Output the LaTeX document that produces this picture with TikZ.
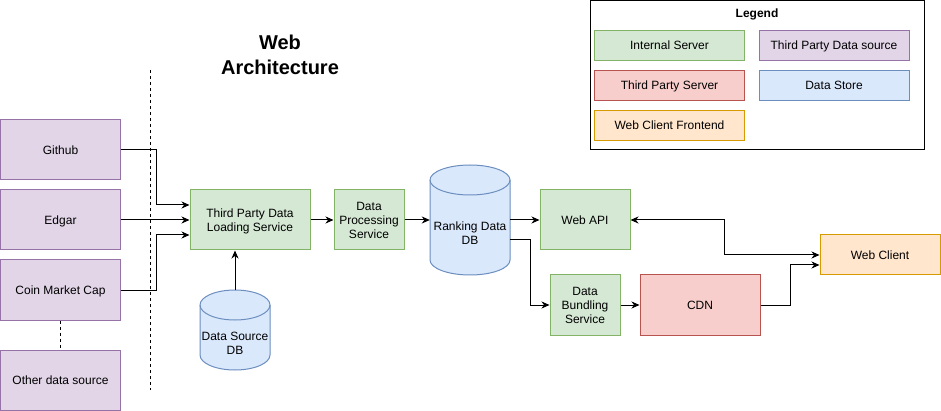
\documentclass[tikz,border=0pt]{standalone}
\usepackage{fontspec}
\setmainfont{Liberation Sans}
\usetikzlibrary{arrows.meta,backgrounds}
\definecolor{greenf}{HTML}{D5E8D4}\definecolor{greend}{HTML}{82B366}
\definecolor{purplef}{HTML}{E1D5E7}\definecolor{purpled}{HTML}{9673A6}
\definecolor{redf}{HTML}{F8CECC}\definecolor{redd}{HTML}{B85450}
\definecolor{bluef}{HTML}{DAE8FC}\definecolor{blued}{HTML}{6C8EBF}
\definecolor{orangef}{HTML}{FFE6CC}\definecolor{oranged}{HTML}{D79B00}
\newcommand{\mycyl}[4]{%
  \pgfmathsetmacro\rx{(#3-#1)/2}%
  \filldraw[fill=bluef, draw=blued, line width=1pt] (#1,#2+15) -- (#1,#4-15)
    arc[start angle=180,end angle=360,x radius=\rx pt,y radius=15pt] -- (#3,#2+15)
    arc[start angle=0,end angle=180,x radius=\rx pt,y radius=15pt] -- cycle;
  \draw[draw=blued, line width=1pt] (#1,#2+15)
    arc[start angle=180,end angle=360,x radius=\rx pt,y radius=15pt];
}
\begin{document}
\begin{tikzpicture}[x=1pt,y=-1pt, font=\fontsize{12}{14}\selectfont,
  bx/.style={draw, line width=1pt, align=center, inner sep=0pt, text depth=0pt},
  gbox/.style={bx, fill=greenf, draw=greend},
  pbox/.style={bx, fill=purplef, draw=purpled},
  rbox/.style={bx, fill=redf, draw=redd},
  bbox/.style={bx, fill=bluef, draw=blued},
  obox/.style={bx, fill=orangef, draw=oranged},
  cylnode/.style={align=center, inner sep=0pt},
  arr/.style={line width=1pt, -{Stealth[length=8pt,width=7pt,inset=2.5pt]}},
  arrb/.style={line width=1pt, {Stealth[length=8pt,width=7pt,inset=2.5pt]}-{Stealth[length=8pt,width=7pt,inset=2.5pt]}},
  dsh/.style={line width=1pt, dash pattern=on 3pt off 3pt}]
\useasboundingbox (0,0) rectangle (941,411);

% title
\node[font=\fontsize{20}{25}\selectfont\bfseries, align=center] (title) at (280,55) {Web\\Architecture};

% sources
\node[pbox, minimum width=120, minimum height=60] (github) at (60.5,150) {Github};
\node[pbox, minimum width=120, minimum height=60] (edgar) at (60.5,220) {Edgar};
\node[pbox, minimum width=120, minimum height=60] (coin) at (60.5,290) {Coin Market Cap};
\node[pbox, minimum width=120, minimum height=60] (other) at (60.5,380) {Other data source};

% separator
\coordinate (dtop) at (150.5,70);
\coordinate (dbot) at (150.5,390);
\draw[dsh] (dtop) -- (dbot);
\draw[dsh] (coin.south) -- (other.north);

% services
\node[gbox, minimum width=120, minimum height=60] (load) at (250,220) {Third Party Data\\Loading Service};
\node[gbox, minimum width=70, minimum height=60] (proc) at (369,220) {Data\\Processing\\Service};
\node[gbox, minimum width=90, minimum height=60] (webapi) at (585,220) {Web API};
\node[gbox, minimum width=70, minimum height=60] (bundle) at (585,305) {Data\\Bundling\\Service};
\node[rbox, minimum width=120, minimum height=60] (cdn) at (700,305) {CDN};
\node[obox, minimum width=120, minimum height=40] (client) at (880,255) {Web Client};

% data stores
\node[minimum width=80, minimum height=110, inner sep=0pt] (rdb) at (470,220) {};
\node[cylnode] (rdbl) at (470,233) {Ranking Data\\DB};
\node[minimum width=70, minimum height=80, inner sep=0pt] (dsdb) at (235,330) {};
\node[cylnode] (dsdbl) at (235,343) {Data Source\\DB};
\begin{scope}[on background layer]
  \mycyl{430}{165}{510}{275}
  \mycyl{200}{290}{270}{370}
\end{scope}

% connectors
\draw[arr] (github.east) -- ++(35,0) |- ([yshift=15pt]load.west);
\draw[arr] (edgar.east) -- (load.west);
\draw[arr] (coin.east) -- ++(35,0) |- ([yshift=-15pt]load.west);
\draw[arr] (dsdb.north) -- (dsdb.north |- load.south);
\draw[arr] (load.east) -- (proc.west);
\draw[arr] (proc.east) -- (rdb.west);
\draw[arr] (rdb.east) -- (webapi.west);
\draw[arr] ([yshift=-20pt]rdb.east) -- ++(20,0) |- (bundle.west);
\draw[arr] (bundle.east) -- (cdn.west);
\draw[arrb] (client.west) -- ++(-95,0) |- (webapi.east);
\draw[arr] (cdn.east) -- ++(30,0) |- ([yshift=-10pt]client.west);

% legend
\node[draw=black, line width=1pt, minimum width=334, minimum height=149, inner sep=0pt] (legend) at (757.5,75.5) {};
\node[font=\fontsize{12}{14}\selectfont\bfseries] (legtitle) at (757,14) {Legend};
\node[gbox, minimum width=150, minimum height=30] (lg1) at (669.5,45.5) {Internal Server};
\node[pbox, minimum width=150, minimum height=30] (lg2) at (834,45.5) {Third Party Data source};
\node[rbox, minimum width=150, minimum height=30] (lg3) at (669.5,85.5) {Third Party Server};
\node[bbox, minimum width=150, minimum height=30] (lg4) at (834,85.5) {Data Store};
\node[obox, minimum width=150, minimum height=30] (lg5) at (669.5,125.5) {Web Client Frontend};
\end{tikzpicture}
\end{document}
